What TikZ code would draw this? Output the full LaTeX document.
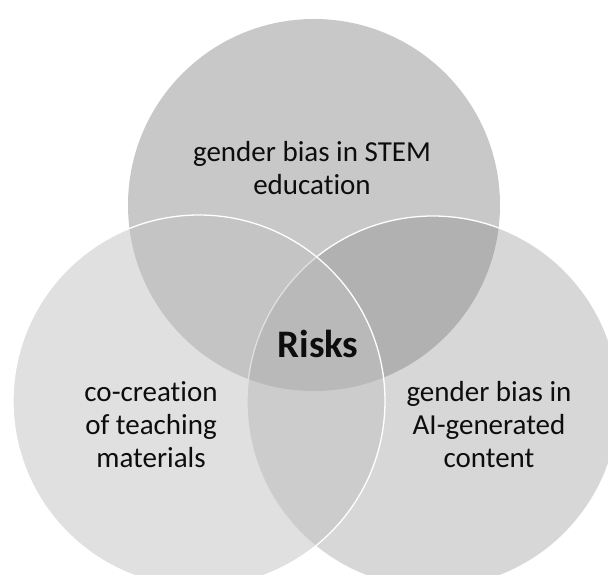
\documentclass[tikz,border=0pt]{standalone}
\usepackage{fontspec}
\setmainfont{Carlito}[Ligatures=CommonOff]
\usetikzlibrary{positioning}

\tikzset{
  venn/.style={draw=white, line width=1.3pt},
  vtext/.style={font=\fontsize{29}{33}\selectfont, align=center, text=black!95, inner sep=0pt}
}

\begin{document}
\begin{tikzpicture}[x=1pt,y=-1pt]
  \useasboundingbox (0,0) rectangle (608,575);
  \clip (0,0) rectangle (608,575);
  % circles, back to front
  \fill[fill={rgb,255:red,145;green,145;blue,145}, fill opacity=0.5] (314,205) circle (186);
  \draw[venn, fill={rgb,255:red,126;green,126;blue,126}, fill opacity=0.31] (433,402) circle (186);
  \draw[venn, fill={rgb,255:red,193;green,193;blue,193}, fill opacity=0.5] (199,401) circle (186);
  % labels
  \node[vtext] (stem) at (312,168) {gender bias in STEM\\education};
  \node[vtext] (cocreation) at (151,425) {co-creation\\of teaching\\materials};
  \node[vtext] (aigen) at (489,425) {gender bias in\\AI-generated\\content};
  \node[vtext, font=\fontsize{39}{42}\selectfont\bfseries] (risks) at (318,344) {Risks};
\end{tikzpicture}
\end{document}
